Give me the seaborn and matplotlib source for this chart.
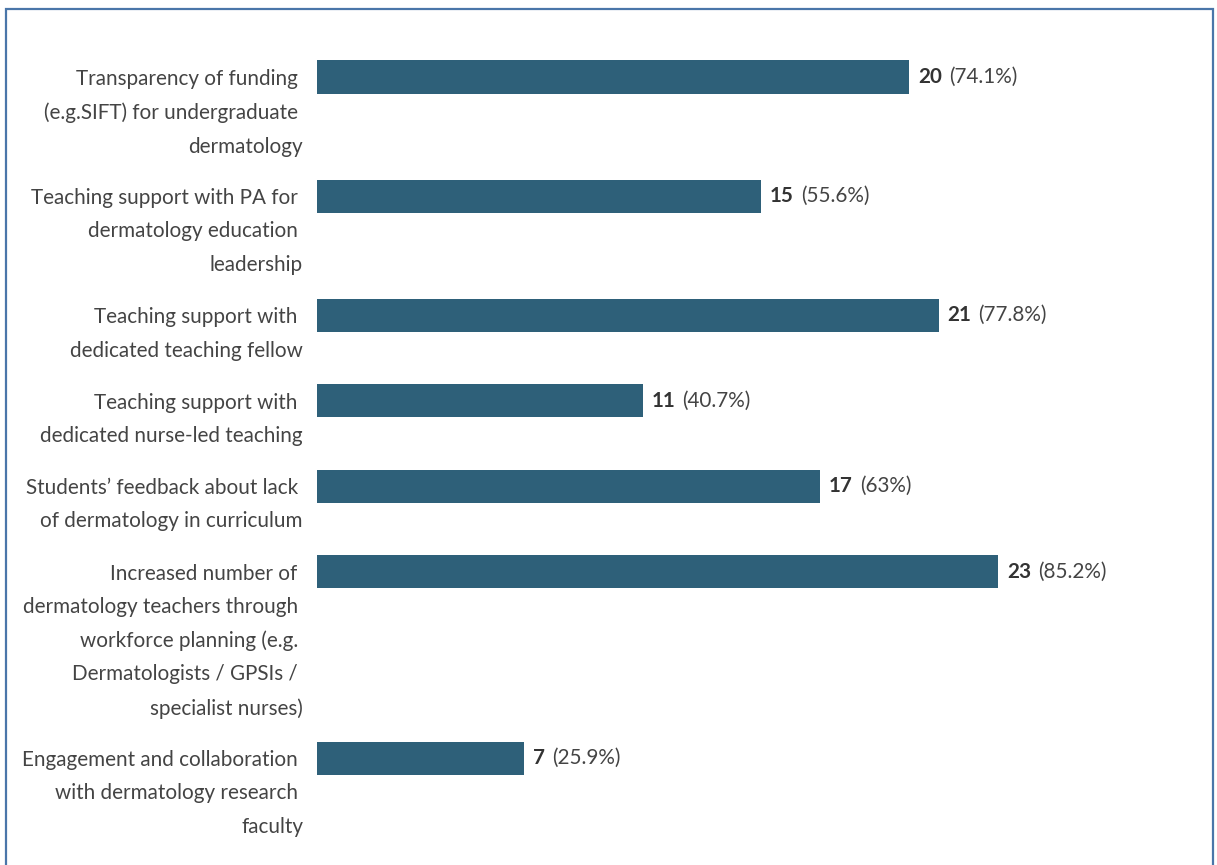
import numpy as np
import pandas as pd
import matplotlib
matplotlib.use("Agg")
import matplotlib.pyplot as plt
import seaborn as sns
from matplotlib.patches import Rectangle

labels = [
    "Transparency of funding \n(e.g.SIFT) for undergraduate \ndermatology",
    "Teaching support with PA for \ndermatology education \nleadership",
    "Teaching support with \ndedicated teaching fellow",
    "Teaching support with \ndedicated nurse-led teaching",
    "Students’ feedback about lack \nof dermatology in curriculum",
    "Increased number of \ndermatology teachers through \nworkforce planning (e.g. \nDermatologists / GPSIs / \nspecialist nurses)",
    "Engagement and collaboration \nwith dermatology research \nfaculty",
]
counts = [20, 15, 21, 11, 17, 23, 7]
percents = ["74.1%", "55.6%", "77.8%", "40.7%", "63%", "85.2%", "25.9%"]

sns.set_theme(style="white")
plt.rcParams["font.family"] = ["Lato", "DejaVu Sans"]

BAR = "#2e6079"
TXT = "#444444"
FS = 14.9

# slot positions in "text line" units: each item takes as many lines as its label
gap = 0.535
pos = []
y = 0.5
for lab in labels:
    pos.append(y)
    y += lab.count("\n") + 1 + gap

df = pd.DataFrame({"label": labels, "count": counts, "pos": pos})

fig = plt.figure(figsize=(12.17, 8.65), dpi=100)
ax = fig.add_axes([0, 0, 1, 1])
min_step = np.min(np.diff(pos))
sns.barplot(data=df, x="count", y="pos", orient="y", native_scale=True,
            width=0.98 / min_step, color=BAR, saturation=1, linewidth=0, ax=ax)

line_px = 33.7
ax.set_ylim(0.5 + (865 - 77) / line_px, 0.5 - 77 / line_px)
unit_px = 29.6
ax.set_xlim(-317 / unit_px, (1217 - 317) / unit_px)
ax.axis("off")

for lab, c, pct, p in zip(labels, counts, percents, pos):
    ax.annotate(lab, xy=(0, p), xytext=(-14, 8.0), textcoords="offset pixels",
                ha="right", va="top", fontsize=FS, color=TXT, linespacing=1.83)
    t1 = ax.annotate(str(c), xy=(c, p), xytext=(9, 0), textcoords="offset pixels",
                     ha="left", va="center", fontsize=FS, fontweight="bold", color="#333333")
    ax.annotate(f"({pct})", xy=(1, 0.5), xycoords=t1, xytext=(7, 0),
                textcoords="offset pixels", ha="left", va="center", fontsize=FS, color=TXT)

border = Rectangle((6 / 1217, -0.05), (1213 - 6) / 1217, 1.05 - 9 / 865,
                   transform=fig.transFigure, fill=False, edgecolor="#4a76a9",
                   linewidth=1.6, clip_on=False)
fig.patches.append(border)

fig.savefig("out.png", dpi=100)
